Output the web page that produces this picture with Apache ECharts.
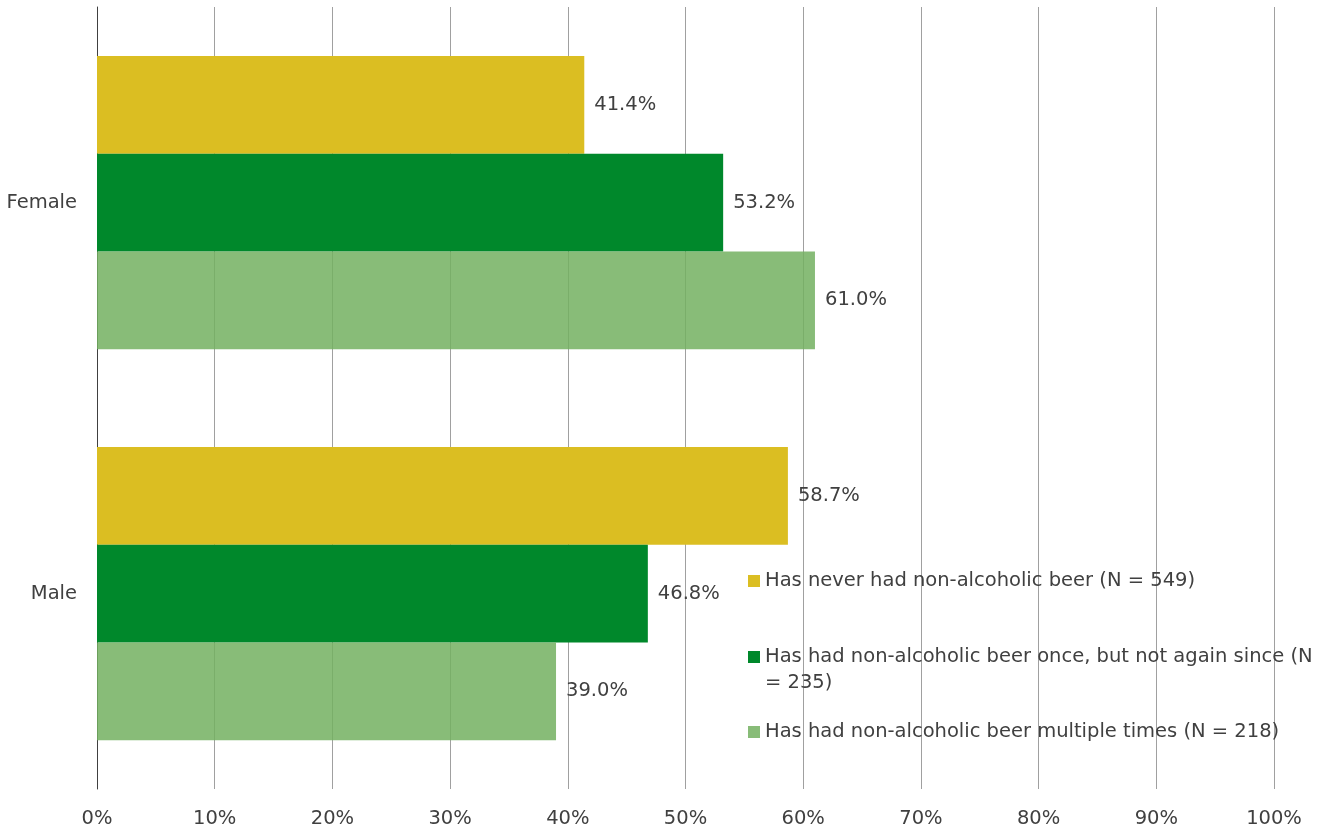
<!DOCTYPE html>
<html><head><meta charset="utf-8">
<script src="https://cdn.jsdelivr.net/npm/echarts@6/dist/echarts.min.js"></script>
<style>html,body{margin:0;padding:0;background:#fff}#c{width:1337px;height:833px}</style>
</head><body><div id="c"></div>
<script>
const categories = ['Female', 'Male'];
const seriesNames = [
  'Has never had non-alcoholic beer (N = 549)',
  'Has had non-alcoholic beer once, but not again since (N = 235)',
  'Has had non-alcoholic beer multiple times (N = 218)'
];
const neverHad = [41.4, 58.7];
const hadOnce = [53.2, 46.8];
const hadMultiple = [61.0, 39.0];
const tickLabels = ['0%','10%','20%','30%','40%','50%','60%','70%','80%','90%','100%'];

const FONT = 'DejaVu Sans';
const TXT = '#404040';
const FS = 19.5;
const colors = ['#DBBE22', '#00882B', 'rgba(115,176,96,0.85)'];

const chart = echarts.init(document.getElementById('c'));
const labelCfg = {
  show: true, position: 'right', distance: 10,
  color: TXT, fontFamily: FONT, fontSize: FS,
  formatter: p => p.value.toFixed(1) + '%'
};
const legendBase = {
  orient: 'vertical', left: 748, itemWidth: 12, itemHeight: 12, itemGap: 0, padding: 0,
  icon: 'rect', selectedMode: false,
  textStyle: { color: TXT, fontFamily: FONT, fontSize: FS, lineHeight: 26, width: 556, overflow: 'break' }
};
chart.setOption({
  animation: false,
  grid: { left: 97, right: 63, top: 7, bottom: 44, containLabel: false },
  xAxis: {
    type: 'value', min: 0, max: 100, interval: 10,
    axisLine: { show: false }, axisTick: { show: false },
    splitLine: { show: true, lineStyle: { color: '#a0a0a0', width: 1 } },
    axisLabel: { color: TXT, fontFamily: FONT, fontSize: FS, margin: 20,
      formatter: v => tickLabels[Math.round(v / 10)] }
  },
  yAxis: {
    type: 'category', data: categories, inverse: true,
    axisLine: { show: true, lineStyle: { color: '#404040', width: 1 } },
    axisTick: { show: false },
    axisLabel: { color: TXT, fontFamily: FONT, fontSize: FS, margin: 20 }
  },
  legend: [
    Object.assign({}, legendBase, { top: 568, data: [seriesNames[0]] }),
    Object.assign({}, legendBase, { top: 644, itemHeight: 38,
      icon: 'path://M0,0L12,0L12,12L0,12Z M0,37.99L0.01,38', data: [seriesNames[1]] }),
    Object.assign({}, legendBase, { top: 719, data: [seriesNames[2]] })
  ],
  series: [
    { name: seriesNames[0], type: 'bar', data: neverHad, itemStyle: { color: colors[0] },
      barGap: '0%', barCategoryGap: '25%', label: labelCfg },
    { name: seriesNames[1], type: 'bar', data: hadOnce, itemStyle: { color: colors[1] },
      barGap: '0%', barCategoryGap: '25%', label: labelCfg },
    { name: seriesNames[2], type: 'bar', data: hadMultiple, itemStyle: { color: colors[2] },
      barGap: '0%', barCategoryGap: '25%', label: labelCfg }
  ]
});
</script></body></html>
